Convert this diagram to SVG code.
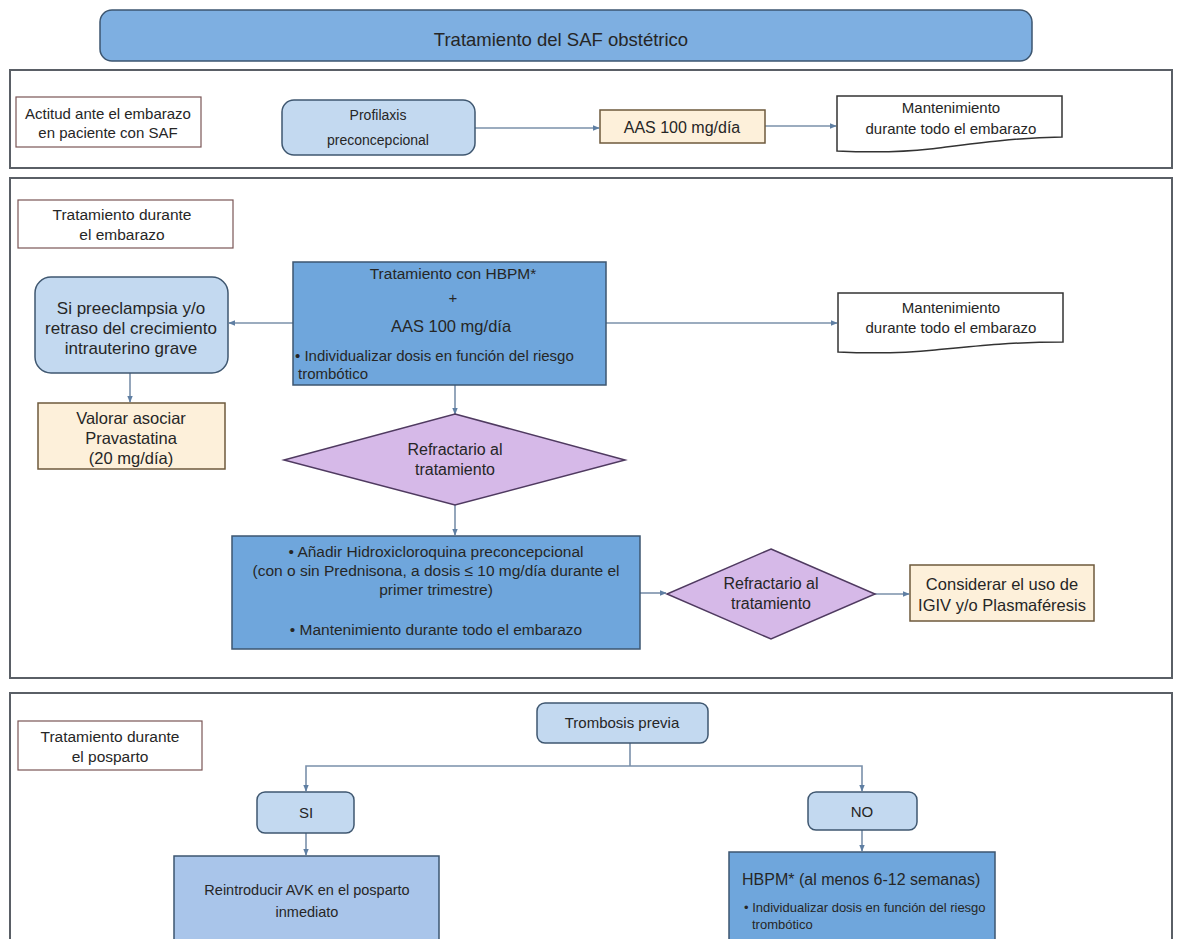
<svg xmlns="http://www.w3.org/2000/svg" width="1181" height="939" viewBox="0 0 1181 939">
<defs>
<marker id="ah" viewBox="0 0 10 10" refX="9" refY="5" markerWidth="4.5" markerHeight="4.5" orient="auto-start-reverse">
<path d="M0,1 L10,5 L0,9 Z" fill="#5f7fa3"/>
</marker>
<style>
text{font-family:"Liberation Sans",Arial,sans-serif;fill:#262626;font-size:15px;text-anchor:middle}
.panel{fill:#fff;stroke:#5a5f66;stroke-width:2}
.label{fill:#fff;stroke:#7a5555;stroke-width:1.2}
.lb{fill:#c3d9f0;stroke:#3f5770;stroke-width:1.5}
.mb{fill:#6fa6dc;stroke:#3d5670;stroke-width:1.5}
.cr{fill:#fdf0da;stroke:#6e5a3c;stroke-width:1.5}
.doc{fill:#fff;stroke:#333;stroke-width:1.5}
.dia{fill:#d6b9e8;stroke:#4f3a60;stroke-width:1.5}
.con{fill:none;stroke:#7a90aa;stroke-width:1.6}
.l{text-anchor:start}
</style>
</defs>
<rect width="1181" height="939" fill="#fff"/>

<g id="title">
<rect x="100" y="10" width="932" height="51" rx="12" fill="#7eafe1" stroke="#3d5670" stroke-width="1.5"/>
<text x="561" y="46" style="font-size:18.5px">Tratamiento del SAF obstétrico</text>
</g>

<g id="panel1"><rect class="panel" x="10" y="70" width="1162" height="98"/></g>
<g id="panel2"><rect class="panel" x="10" y="178" width="1162" height="500"/></g>
<g id="panel3"><rect class="panel" x="10" y="693" width="1162" height="260"/></g>

<g id="connectors">
<line class="con" x1="475" y1="128" x2="599" y2="128" marker-end="url(#ah)"/>
<line class="con" x1="765" y1="126" x2="836" y2="126" marker-end="url(#ah)"/>
<line class="con" x1="293" y1="323" x2="229" y2="323" marker-end="url(#ah)"/>
<line class="con" x1="606" y1="323" x2="837" y2="323" marker-end="url(#ah)"/>
<line class="con" x1="130" y1="373" x2="130" y2="402" marker-end="url(#ah)"/>
<line class="con" x1="455" y1="385" x2="455" y2="414" marker-end="url(#ah)"/>
<line class="con" x1="455" y1="505" x2="455" y2="535" marker-end="url(#ah)"/>
<line class="con" x1="640" y1="593" x2="666" y2="593" marker-end="url(#ah)"/>
<line class="con" x1="875" y1="594" x2="909" y2="594" marker-end="url(#ah)"/>
<polyline class="con" points="630,743 630,766"/>
<polyline class="con" points="306,791 306,766 862,766 862,791" marker-start="url(#ah)" marker-end="url(#ah)"/>
<line class="con" x1="306" y1="833" x2="306" y2="855" marker-end="url(#ah)"/>
<line class="con" x1="862" y1="830" x2="862" y2="851" marker-end="url(#ah)"/>
</g>

<g id="actitud">
<rect class="label" x="16" y="97" width="185" height="50"/>
<text x="108" y="119">Actitud ante el embarazo</text>
<text x="108" y="138">en paciente con SAF</text>
</g>
<g id="profilaxis">
<rect class="lb" x="282" y="100" width="193" height="55" rx="12"/>
<text x="378" y="120" style="font-size:14px">Profilaxis</text>
<text x="378" y="145" style="font-size:14px">preconcepcional</text>
</g>
<g id="aas1">
<rect class="cr" x="600" y="110" width="165" height="33"/>
<text x="682" y="133" style="font-size:16px">AAS 100 mg/día</text>
</g>
<g id="mant1">
<path class="doc" d="M837,96 H1062 V137 C1010,138 970,144 930,149 C895,153 860,152 837,151 Z"/>
<text x="951" y="113">Mantenimiento</text>
<text x="951" y="134">durante todo el embarazo</text>
</g>

<g id="trat-embarazo">
<rect class="label" x="18" y="200" width="215" height="48"/>
<text x="122" y="220" style="font-size:15.5px">Tratamiento durante</text>
<text x="122" y="240" style="font-size:15.5px">el embarazo</text>
</g>
<g id="preeclampsia">
<rect class="lb" x="35" y="277" width="193" height="96" rx="16"/>
<text x="131" y="314" style="font-size:17px">Si preeclampsia y/o</text>
<text x="131" y="334" style="font-size:17px">retraso del crecimiento</text>
<text x="131" y="354" style="font-size:17px">intrauterino grave</text>
</g>
<g id="pravastatina">
<rect class="cr" x="38" y="403" width="187" height="66"/>
<text x="131" y="424" style="font-size:16.5px">Valorar asociar</text>
<text x="131" y="444" style="font-size:16.5px">Pravastatina</text>
<text x="131" y="464" style="font-size:16.5px">(20 mg/día)</text>
</g>
<g id="hbpm">
<rect class="mb" x="293" y="262" width="313" height="123"/>
<text x="453" y="279" style="font-size:15.5px">Tratamiento con HBPM*</text>
<text x="453" y="303">+</text>
<text x="451" y="332" style="font-size:16.5px">AAS 100 mg/día</text>
<text class="l" x="295" y="361" style="font-size:15px">• Individualizar dosis en función del riesgo</text>
<text class="l" x="298" y="379" style="font-size:15px">trombótico</text>
</g>
<g id="mant2">
<path class="doc" d="M838,293 H1063 V342 C1010,342 975,346 935,350 C895,354 860,353 838,352 Z"/>
<text x="951" y="313">Mantenimiento</text>
<text x="951" y="333">durante todo el embarazo</text>
</g>
<g id="refractario1">
<polygon class="dia" points="455,414 625,460 455,505 284,460"/>
<text x="455" y="455" style="font-size:16px">Refractario al</text>
<text x="455" y="475" style="font-size:16px">tratamiento</text>
</g>
<g id="hidroxi">
<rect class="mb" x="232" y="536" width="408" height="113"/>
<text x="436" y="557" style="font-size:15.5px">•      Añadir Hidroxicloroquina preconcepcional</text>
<text x="436" y="576" style="font-size:15.5px">(con o sin Prednisona, a dosis ≤ 10 mg/día durante el</text>
<text x="436" y="595" style="font-size:15.5px">primer trimestre)</text>
<text x="436" y="635" style="font-size:15.5px">•      Mantenimiento durante todo el embarazo</text>
</g>
<g id="refractario2">
<polygon class="dia" points="771,549 875,594 771,639 667,594"/>
<text x="771" y="589" style="font-size:16px">Refractario al</text>
<text x="771" y="609" style="font-size:16px">tratamiento</text>
</g>
<g id="considerar">
<rect class="cr" x="910" y="565" width="184" height="56"/>
<text x="1002" y="590" style="font-size:16.5px">Considerar el uso de</text>
<text x="1002" y="611" style="font-size:16.5px">IGIV y/o Plasmaféresis</text>
</g>

<g id="trat-posparto">
<rect class="label" x="18" y="721" width="184" height="49"/>
<text x="110" y="742" style="font-size:15.5px">Tratamiento durante</text>
<text x="110" y="762" style="font-size:15.5px">el posparto</text>
</g>
<g id="trombosis">
<rect class="lb" x="537" y="703" width="171" height="40" rx="8"/>
<text x="622" y="728">Trombosis previa</text>
</g>
<g id="si">
<rect class="lb" x="257" y="792" width="97" height="41" rx="8"/>
<text x="306" y="818">SI</text>
</g>
<g id="no">
<rect class="lb" x="808" y="792" width="109" height="38" rx="8"/>
<text x="862" y="817">NO</text>
</g>
<g id="reintroducir">
<rect x="174" y="856" width="265" height="100" fill="#a9c5ea" stroke="#3d5670" stroke-width="1.5"/>
<text x="307" y="895" style="font-size:14.5px">Reintroducir AVK en el posparto</text>
<text x="307" y="917" style="font-size:14.5px">inmediato</text>
</g>
<g id="hbpm-posparto">
<rect class="mb" x="729" y="852" width="266" height="100"/>
<text class="l" x="742" y="885" style="font-size:16px">HBPM* (al menos 6-12 semanas)</text>
<text class="l" x="744" y="912" style="font-size:13px">• Individualizar dosis en función del riesgo</text>
<text class="l" x="752" y="929" style="font-size:13px">trombótico</text>
</g>
</svg>
